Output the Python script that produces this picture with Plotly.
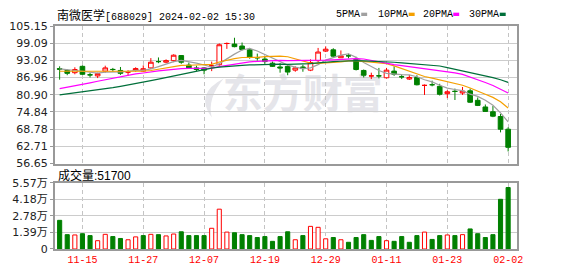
import plotly.graph_objects as go

W, H = 578, 276

stock_name = "南微医学"
stock_code = "688029"
timestamp = "2024-02-02 15:30"
last_volume = 51700

dates = ["11-10", "11-13", "11-14", "11-15", "11-16", "11-17", "11-20", "11-21", "11-22", "11-23",
         "11-24", "11-27", "11-28", "11-29", "11-30", "12-01", "12-04", "12-05", "12-06", "12-07",
         "12-08", "12-11", "12-12", "12-13", "12-14", "12-15", "12-18", "12-19", "12-20", "12-21",
         "12-22", "12-25", "12-26", "12-27", "12-28", "12-29", "01-02", "01-03", "01-04", "01-05",
         "01-08", "01-09", "01-10", "01-11", "01-12", "01-15", "01-16", "01-17", "01-18", "01-19",
         "01-22", "01-23", "01-24", "01-25", "01-26", "01-29", "01-30", "01-31", "02-01", "02-02"]

opens = [90.14, 89.47, 88.69, 90.93, 87.95, 87.56, 89.24, 89.85, 89.47, 88.91,
         89.47, 89.24, 90.37, 92.62, 92.38, 92.94, 94.73, 91.37, 90.37, 90.37,
         91.13, 91.49, 98.97, 98.77, 98.09, 96.75, 93.97, 93.50, 92.04, 90.70,
         90.93, 89.58, 90.70, 89.58, 92.94, 96.30, 96.75, 93.95, 94.64, 93.39,
         89.47, 87.55, 87.58, 86.89, 89.24, 87.25, 86.44, 87.00, 84.20, 84.45,
         83.87, 81.29, 82.10, 81.52, 82.30, 78.94, 76.59, 74.91, 73.23, 68.75]
highs = [90.93, 89.80, 90.59, 91.26, 88.69, 88.69, 91.15, 90.37, 90.70, 89.58,
         90.59, 91.26, 93.84, 94.06, 93.39, 95.18, 94.85, 92.27, 91.15, 90.59,
         92.60, 98.99, 99.33, 101.01, 99.33, 97.42, 95.41, 94.29, 92.60, 92.04,
         91.49, 90.93, 91.49, 93.39, 97.42, 97.98, 97.31, 96.53, 95.41, 94.29,
         89.80, 88.69, 90.37, 90.37, 90.93, 88.12, 87.90, 87.79, 84.54, 85.88,
         84.77, 82.52, 83.08, 83.64, 83.08, 79.95, 77.48, 76.92, 74.12, 69.42]
lows = [86.22, 87.79, 88.12, 87.90, 87.00, 86.78, 88.69, 89.02, 87.90, 87.56,
        89.02, 88.91, 90.03, 92.04, 92.04, 92.38, 91.82, 90.03, 89.24, 88.12,
        89.24, 91.15, 97.09, 97.64, 96.53, 93.61, 92.94, 91.82, 90.70, 88.69,
        87.79, 89.02, 89.02, 89.24, 92.38, 95.97, 94.29, 93.84, 93.72, 89.47,
        87.00, 86.44, 86.67, 86.67, 87.56, 86.44, 86.11, 84.20, 80.84, 83.87,
        80.62, 79.72, 79.05, 80.84, 78.04, 76.92, 75.02, 73.00, 67.63, 60.90]
closes = [89.90, 88.46, 89.80, 88.12, 87.90, 88.35, 90.37, 89.80, 88.46, 88.93,
          90.14, 90.09, 92.38, 92.58, 92.94, 94.85, 92.38, 90.37, 89.80, 89.58,
          91.15, 98.54, 98.99, 97.87, 96.86, 94.06, 93.95, 92.60, 90.93, 90.37,
          88.91, 90.37, 90.14, 92.27, 95.97, 96.97, 94.51, 94.62, 94.62, 89.80,
          87.79, 87.56, 87.56, 89.58, 88.12, 87.23, 87.00, 84.43, 84.22, 84.43,
          81.07, 81.96, 82.08, 82.19, 78.27, 77.15, 75.02, 73.34, 68.75, 62.36]

volumes = [24100, 12060, 11800, 12860, 11250, 6970, 12320, 10450, 8840, 7770,
           10180, 11250, 12320, 12060, 10980, 12590, 14470, 11250, 11250, 11250,
           17410, 33490, 14200, 13660, 12060, 11250, 9640, 10450, 6430, 10450,
           14470, 7770, 11250, 19020, 18220, 8570, 9640, 7770, 5630, 9640,
           12060, 7230, 10450, 6970, 6430, 10450, 5630, 11250, 14200, 8040,
           11250, 11790, 11250, 12060, 16880, 12860, 9640, 12060, 41790, last_volume]
vol_up = [0, 0, 1, 0, 0, 1, 1, 0, 0, 1,
          1, 0, 1, 0, 1, 1, 0, 0, 0, 0,
          1, 1, 1, 0, 0, 0, 0, 0, 0, 0,
          0, 1, 0, 1, 1, 1, 0, 1, 0, 0,
          0, 0, 0, 1, 0, 0, 0, 0, 1, 0,
          0, 1, 0, 1, 0, 0, 0, 0, 0, 0]

ma5 = [90.00, 89.80, 89.50, 89.20, 88.84, 88.53, 88.91, 88.91, 88.98, 89.18,
       89.54, 89.48, 90.00, 90.82, 91.63, 92.57, 93.03, 92.62, 92.07, 91.40,
       90.66, 91.89, 93.61, 95.23, 96.68, 97.26, 96.35, 95.07, 93.68, 92.38,
       91.35, 90.64, 90.14, 90.41, 91.53, 93.14, 93.97, 94.87, 95.34, 94.10,
       92.27, 90.88, 89.47, 88.46, 88.12, 88.01, 87.90, 87.27, 86.20, 85.46,
       84.23, 83.22, 82.75, 82.35, 81.11, 80.33, 78.94, 77.19, 74.51, 71.32]
ma10 = [89.20, 89.20, 89.15, 89.10, 89.10, 89.05, 89.05, 89.05, 89.00, 89.01,
        89.03, 89.20, 89.45, 89.90, 90.40, 91.05, 91.26, 91.31, 91.45, 91.51,
        91.61, 92.46, 93.12, 93.65, 94.04, 93.96, 94.12, 94.34, 94.45, 94.53,
        94.31, 93.49, 92.61, 92.05, 91.96, 92.25, 92.30, 92.51, 92.88, 92.82,
        92.71, 92.43, 92.17, 91.90, 91.11, 90.14, 89.39, 88.37, 87.33, 86.79,
        86.12, 85.56, 85.01, 84.27, 83.29, 82.28, 81.08, 79.97, 78.43, 76.22]
ma20 = [83.09, 83.53, 83.98, 84.54, 85.10, 85.66, 86.22, 86.78, 87.34, 87.79,
        88.24, 88.57, 89.02, 89.30, 89.60, 89.90, 90.10, 90.20, 90.25, 90.26,
        90.32, 90.83, 91.29, 91.77, 92.22, 92.51, 92.69, 92.83, 92.95, 93.02,
        92.96, 92.97, 92.86, 92.85, 93.00, 93.10, 93.21, 93.42, 93.66, 93.68,
        93.51, 92.96, 92.39, 91.97, 91.54, 91.19, 90.85, 90.44, 90.10, 89.81,
        89.41, 88.99, 88.59, 88.09, 87.20, 86.21, 85.24, 84.17, 82.88, 81.51]
ma30 = [80.84, 81.18, 81.52, 81.85, 82.19, 82.52, 82.97, 83.42, 83.87, 84.32,
        84.77, 85.32, 85.88, 86.44, 87.00, 87.56, 88.12, 88.69, 89.30, 89.85,
        90.30, 90.65, 90.95, 91.15, 91.30, 91.42, 91.52, 91.60, 91.65, 91.68,
        91.65, 91.71, 91.73, 91.86, 92.13, 92.42, 92.56, 92.72, 92.92, 92.95,
        92.88, 92.79, 92.63, 92.53, 92.37, 92.12, 91.94, 91.74, 91.55, 91.38,
        91.04, 90.49, 89.93, 89.41, 88.79, 88.22, 87.59, 86.95, 86.21, 85.28]

ma_names = ["5PMA", "10PMA", "20PMA", "30PMA"]
price_ticks = [56.65, 62.71, 68.78, 74.84, 80.90, 86.96, 93.02, 99.09, 105.15]
vol_ticks = [0, 13925, 27850, 41775, 55700]
vol_tick_text = ["0", "1.39万", "2.78万", "4.18万", "5.57万"]
date_ticks = ["11-15", "11-27", "12-07", "12-19", "12-29", "01-11", "01-23", "02-02"]

RED = "#ff0000"
GREEN = "#008000"
MA_COLORS = ["#a0a0a0", "#f5a000", "#ff00ff", "#006f3a"]
GRID = "#cccccc"
BORDER = "#999999"
TXT = "#222222"
WATERMARK = "#e5e5ea"


def fx(p):
    return p / W


def fy(p):
    return 1 - p / H


fig = go.Figure()

fig.add_trace(go.Candlestick(
    x=dates, open=opens, high=highs, low=lows, close=closes,
    increasing=dict(line=dict(color=RED, width=1), fillcolor="white"),
    decreasing=dict(line=dict(color=GREEN, width=1), fillcolor=GREEN),
    whiskerwidth=0, xaxis="x", yaxis="y", hoverinfo="skip", showlegend=False))

for name, vals, col in zip(ma_names, [ma5, ma10, ma20, ma30], MA_COLORS):
    fig.add_trace(go.Scatter(x=dates, y=vals, mode="lines", name=name,
                             line=dict(color=col, width=1.2),
                             xaxis="x", yaxis="y", showlegend=False, hoverinfo="skip"))

fig.add_trace(go.Bar(
    x=dates, y=volumes,
    marker=dict(color=["white" if u else GREEN for u in vol_up],
                line=dict(color=[RED if u else GREEN for u in vol_up], width=1)),
    xaxis="x2", yaxis="y2", showlegend=False, hoverinfo="skip"))

x_dom = [fx(55.5), fx(522.3)]
xcommon = dict(domain=x_dom, type="category", range=[-0.62, 60.15],
               tickvals=date_ticks, showgrid=True, gridcolor="#c4c4c4",
               griddash="4px,3px", gridwidth=1, showline=True, mirror=True,
               linecolor=BORDER, linewidth=2, zeroline=False, ticks="",
               fixedrange=True)

fig.update_layout(
    width=W, height=H, autosize=False,
    margin=dict(l=0, r=0, t=0, b=0),
    paper_bgcolor="white", plot_bgcolor="white",
    font=dict(family="Liberation Sans, Noto Sans CJK SC", size=12, color=TXT),
    boxgap=0.15, boxgroupgap=0.28, bargap=0.46,
    xaxis=dict(**xcommon, anchor="y", showticklabels=False,
               rangeslider=dict(visible=False)),
    yaxis=dict(domain=[fy(165.3), fy(21)], range=[price_ticks[0], price_ticks[-1]],
               tickvals=price_ticks, ticktext=[f"{v:.2f}" for v in price_ticks],
               showgrid=True, gridcolor=GRID, gridwidth=1, showline=True, mirror=True,
               linecolor=BORDER, linewidth=2, zeroline=False, ticks="outside",
               ticklen=3, tickcolor=BORDER, anchor="x", fixedrange=True,
               tickfont=dict(family="DejaVu Sans, Noto Sans CJK SC", size=11, color=TXT)),
    xaxis2=dict(**xcommon, anchor="y2", showticklabels=True,
                tickfont=dict(family="Liberation Mono", size=10, color=RED),
                rangeslider=dict(visible=False)),
    yaxis2=dict(domain=[fy(255), fy(185.5)], range=[vol_ticks[0], vol_ticks[-1]],
                tickvals=vol_ticks, ticktext=vol_tick_text,
                showgrid=True, gridcolor=GRID, gridwidth=1, showline=True, mirror=True,
                linecolor=BORDER, linewidth=2, zeroline=False, ticks="outside",
                ticklen=3, tickcolor=BORDER, anchor="x2", fixedrange=True,
                tickfont=dict(family="DejaVu Sans, Noto Sans CJK SC", size=11, color=TXT)),
)

# watermark text
fig.add_shape(type="rect", xref="paper", yref="paper",
              x0=fx(228), x1=fx(384), y0=fy(118), y1=fy(72),
              line=dict(width=0), fillcolor="rgba(0,0,0,0)", layer="below",
              label=dict(text="东方财富", textposition="middle center",
                         font=dict(family="Noto Sans CJK SC", size=40,
                                   color=WATERMARK, weight="bold")))

# watermark logo (simple crescent swoosh)
def logo_path():
    pts = [(226, 76), (196, 92), (214, 117), (209, 97), (226, 76)]
    p = [(fx(x), fy(y)) for x, y in pts]
    return (f"M {p[0][0]},{p[0][1]} Q {p[1][0]},{p[1][1]} {p[2][0]},{p[2][1]} "
            f"Q {p[3][0]},{p[3][1]} {p[4][0]},{p[4][1]} Z")


fig.add_shape(type="path", xref="paper", yref="paper", path=logo_path(),
              line=dict(width=0), fillcolor=WATERMARK, layer="below")

# title
fig.add_annotation(
    xref="paper", yref="paper", x=fx(56), y=fy(9), xanchor="left", yanchor="middle",
    showarrow=False, font=dict(family="Noto Sans CJK SC", size=12, color="#000"),
    text=f'{stock_name}<span style="font-family:Liberation Mono;font-size:10px">[{stock_code}] {timestamp}</span>')

# MA legend
legend_text_x = [338, 380, 425, 472]
for name, col, tx in zip(ma_names, MA_COLORS, legend_text_x):
    fig.add_annotation(xref="paper", yref="paper", x=fx(tx), y=fy(9),
                       xanchor="left", yanchor="middle", showarrow=False,
                       text=name, font=dict(family="Liberation Mono", size=10, color="#000"))
    sx = tx + 6 * len(name) + 3
    fig.add_shape(type="rect", xref="paper", yref="paper",
                  x0=fx(sx), x1=fx(sx + 6), y0=fy(10.5), y1=fy(7),
                  line=dict(width=0), fillcolor=col)

# volume caption
fig.add_annotation(xref="paper", yref="paper", x=fx(57), y=fy(177.5),
                   xanchor="left", yanchor="middle", showarrow=False,
                   text=f"成交量:{last_volume}",
                   font=dict(family="Liberation Sans, Noto Sans CJK SC", size=12, color="#000"))

fig.write_html("out.html")
